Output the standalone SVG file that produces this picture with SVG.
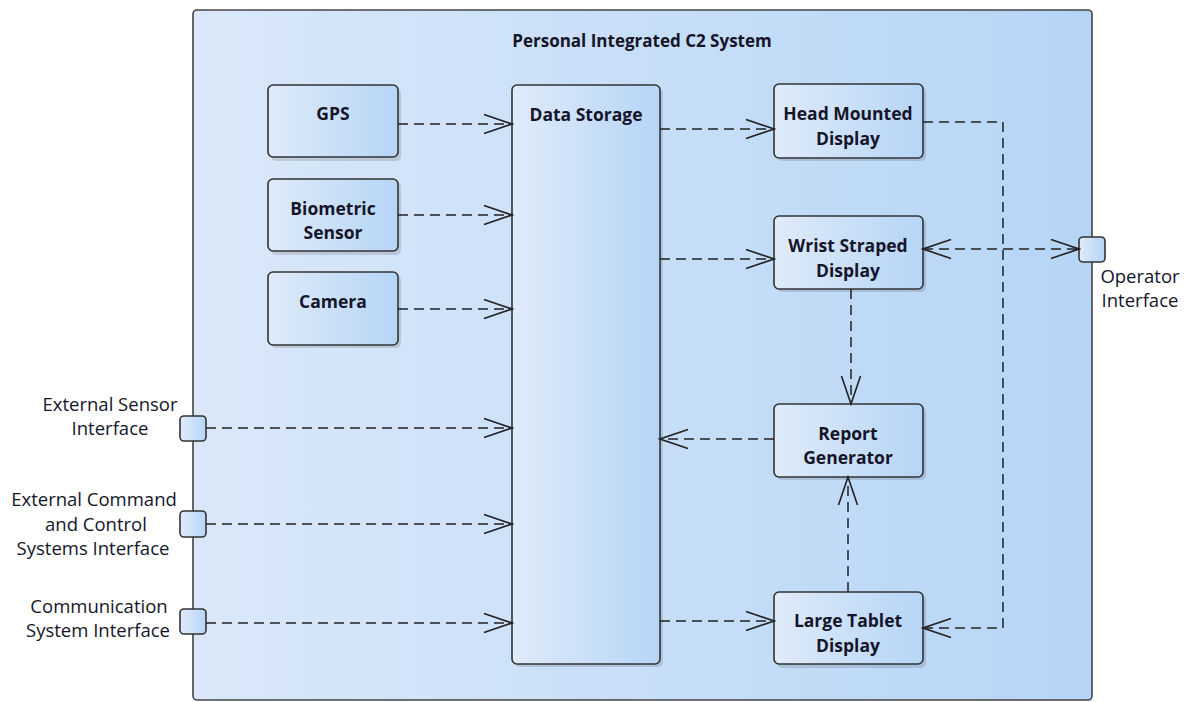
<svg xmlns="http://www.w3.org/2000/svg" width="1189" height="702" viewBox="0 0 1189 702">
<style>
.box{stroke:#333;stroke-width:1.6;fill:url(#ng)}
.outer{stroke:#444;stroke-width:1.6;fill:url(#og)}
.port{stroke:#333;stroke-width:1.6;fill:url(#ng)}
.shadow{fill:#000;opacity:0.12}
.t{font-family:"Open Sans","Liberation Sans",sans-serif;font-size:17.5px;font-weight:bold;fill:#15152a;text-anchor:middle}
.title{font-size:17px}
.pl{font-family:"Open Sans","Liberation Sans",sans-serif;font-size:18.5px;fill:#15152a;text-anchor:middle}
.c{fill:none;stroke:#222;stroke-width:1.5;stroke-dasharray:10 6}
</style>
<defs>
<linearGradient id="ng" x1="0" y1="0" x2="1" y2="0">
<stop offset="0" stop-color="#dfebfa"/>
<stop offset="1" stop-color="#b6d5f6"/>
</linearGradient>
<linearGradient id="og" x1="0" y1="0" x2="1" y2="0">
<stop offset="0" stop-color="#dae8f9"/>
<stop offset="1" stop-color="#b6d5f6"/>
</linearGradient>
<marker id="a" viewBox="-30 -11 32 22" refX="0" refY="0" markerWidth="32" markerHeight="22" markerUnits="userSpaceOnUse" orient="auto-start-reverse">
<path d="M-28,-9.5 L0,0 L-28,9.5" fill="none" stroke="#222" stroke-width="1.6"/>
</marker>
</defs>

<g id="system">
<rect class="outer" x="193" y="10" width="899" height="690" rx="4"/>
<text class="t title" x="642" y="47">Personal Integrated C2 System</text>
</g>

<g id="gps">
<rect class="shadow" x="271" y="88" width="130" height="73" rx="5"/>
<rect class="box" x="268" y="85" width="130" height="72" rx="5"/>
<text class="t" x="333" y="120">GPS</text>
</g>
<g id="biometric">
<rect class="shadow" x="271" y="182" width="130" height="73" rx="5"/>
<rect class="box" x="268" y="179" width="130" height="72" rx="5"/>
<text class="t" x="333" y="215">Biometric</text>
<text class="t" x="333" y="239">Sensor</text>
</g>
<g id="camera">
<rect class="shadow" x="271" y="275" width="130" height="73" rx="5"/>
<rect class="box" x="268" y="272" width="130" height="73" rx="5"/>
<text class="t" x="333" y="308">Camera</text>
</g>
<g id="datastorage">
<rect class="shadow" x="515" y="88" width="148" height="579" rx="5"/>
<rect class="box" x="512" y="85" width="148" height="579" rx="5"/>
<text class="t" x="586" y="121">Data Storage</text>
</g>
<g id="hmd">
<rect class="shadow" x="777" y="87" width="149" height="74" rx="5"/>
<rect class="box" x="774" y="84" width="149" height="74" rx="5"/>
<text class="t" x="848" y="120">Head Mounted</text>
<text class="t" x="848" y="145">Display</text>
</g>
<g id="wrist">
<rect class="shadow" x="777" y="219" width="149" height="73" rx="5"/>
<rect class="box" x="774" y="216" width="149" height="73" rx="5"/>
<text class="t" x="848" y="252">Wrist Straped</text>
<text class="t" x="848" y="277">Display</text>
</g>
<g id="report">
<rect class="shadow" x="777" y="407" width="149" height="73" rx="5"/>
<rect class="box" x="774" y="404" width="149" height="73" rx="5"/>
<text class="t" x="848" y="440">Report</text>
<text class="t" x="848" y="464">Generator</text>
</g>
<g id="tablet">
<rect class="shadow" x="777" y="595" width="149" height="73" rx="5"/>
<rect class="box" x="774" y="592" width="149" height="72" rx="5"/>
<text class="t" x="848" y="627">Large Tablet</text>
<text class="t" x="848" y="652">Display</text>
</g>

<g id="port-ext-sensor">
<rect class="port" x="180" y="416" width="26" height="25" rx="4"/>
<text class="pl" x="110" y="411">External Sensor</text>
<text class="pl" x="110" y="435">Interface</text>
</g>
<g id="port-ext-c2">
<rect class="port" x="180" y="511" width="26" height="26" rx="4"/>
<text class="pl" x="94" y="506">External Command</text>
<text class="pl" x="96" y="531">and Control</text>
<text class="pl" x="93" y="555">Systems Interface</text>
</g>
<g id="port-comm">
<rect class="port" x="180" y="609" width="26" height="25" rx="4"/>
<text class="pl" x="99" y="613">Communication</text>
<text class="pl" x="98" y="637">System Interface</text>
</g>
<g id="port-operator">
<rect class="port" x="1079" y="237" width="26" height="25" rx="4"/>
<text class="pl" x="1140" y="283">Operator</text>
<text class="pl" x="1140" y="307">Interface</text>
</g>

<g id="connectors">
<path class="c" d="M398,124 H512" marker-end="url(#a)"/>
<path class="c" d="M398,215 H512" marker-end="url(#a)"/>
<path class="c" d="M398,309 H512" marker-end="url(#a)"/>
<path class="c" d="M206,428 H512" marker-end="url(#a)"/>
<path class="c" d="M206,524 H512" marker-end="url(#a)"/>
<path class="c" d="M206,623 H512" marker-end="url(#a)"/>
<path class="c" d="M660,129 H774" marker-end="url(#a)"/>
<path class="c" d="M660,259 H774" marker-end="url(#a)"/>
<path class="c" d="M660,621 H774" marker-end="url(#a)"/>
<path class="c" d="M774,439 H660" marker-end="url(#a)"/>
<path class="c" d="M851,289 V404" marker-end="url(#a)"/>
<path class="c" d="M848,592 V477" marker-end="url(#a)"/>
<path class="c" d="M923,122 H1003 V628 H923" marker-end="url(#a)"/>
<path class="c" d="M923,249 H1079" marker-start="url(#a)" marker-end="url(#a)"/>
</g>
</svg>
